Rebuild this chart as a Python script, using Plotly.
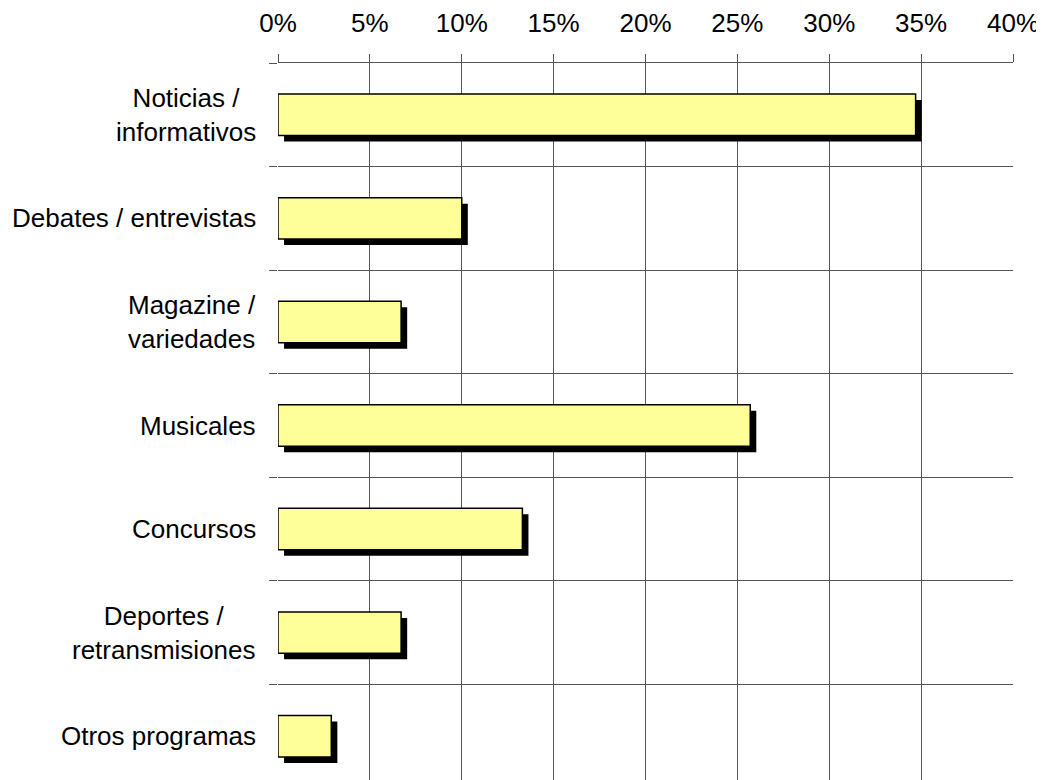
import plotly.graph_objects as go

categories = ["Noticias /<br>informativos", "Debates / entrevistas", "Magazine /<br>variedades",
              "Musicales", "Concursos", "Deportes /<br>retransmisiones", "Otros programas"]
values = [34.7, 10.0, 6.7, 25.7, 13.3, 6.7, 2.9]
tick_vals = [0, 5, 10, 15, 20, 25, 30, 35, 40]
tick_text = ["0%", "5%", "10%", "15%", "20%", "25%", "30%", "35%", "40%"]

bar_w = 0.4
shadow_dx = 0.33   # in % units
shadow_dy = 0.058  # in category units

fig = go.Figure()
fig.add_trace(go.Bar(
    y=categories, x=values, base=[shadow_dx] * len(values), orientation="h",
    width=bar_w, offset=-bar_w / 2 + shadow_dy,
    marker=dict(color="black", line=dict(width=0)), hoverinfo="skip", showlegend=False))
fig.add_trace(go.Bar(
    y=categories, x=values, orientation="h", width=bar_w, offset=-bar_w / 2,
    marker=dict(color="#FFFF99", line=dict(color="black", width=1.5)), showlegend=False))

# Category labels as centred multi-line annotations (right-aligned block)
for cat in categories:
    fig.add_annotation(x=0, xref="paper", y=cat, yref="y", text=cat,
                       xanchor="right", yanchor="middle", align="center",
                       showarrow=False, xshift=-20,
                       font=dict(family="Liberation Sans, Arial, sans-serif", size=26, color="black"))

fig.update_layout(
    width=1044, height=780, barmode="overlay",
    margin=dict(l=270, r=39, t=55, b=0),
    paper_bgcolor="white", plot_bgcolor="white",
    font=dict(family="Liberation Sans, Arial, sans-serif", size=26, color="black"),
    xaxis=dict(side="top", range=[0, 40], tickvals=tick_vals, ticktext=tick_text,
               showgrid=True, gridcolor="#555", gridwidth=1, zeroline=False,
               ticks="outside", ticklen=8, tickcolor="#555",
               showline=True, linecolor="#555", linewidth=1, ticklabelstandoff=12),
    yaxis=dict(type="category", range=[6.5, -0.5], tickson="boundaries",
               showgrid=True, gridcolor="#555", gridwidth=1,
               ticks="outside", ticklen=8, tickcolor="#555", showticklabels=False,
               showline=False),
)
fig.write_html("out.html")
